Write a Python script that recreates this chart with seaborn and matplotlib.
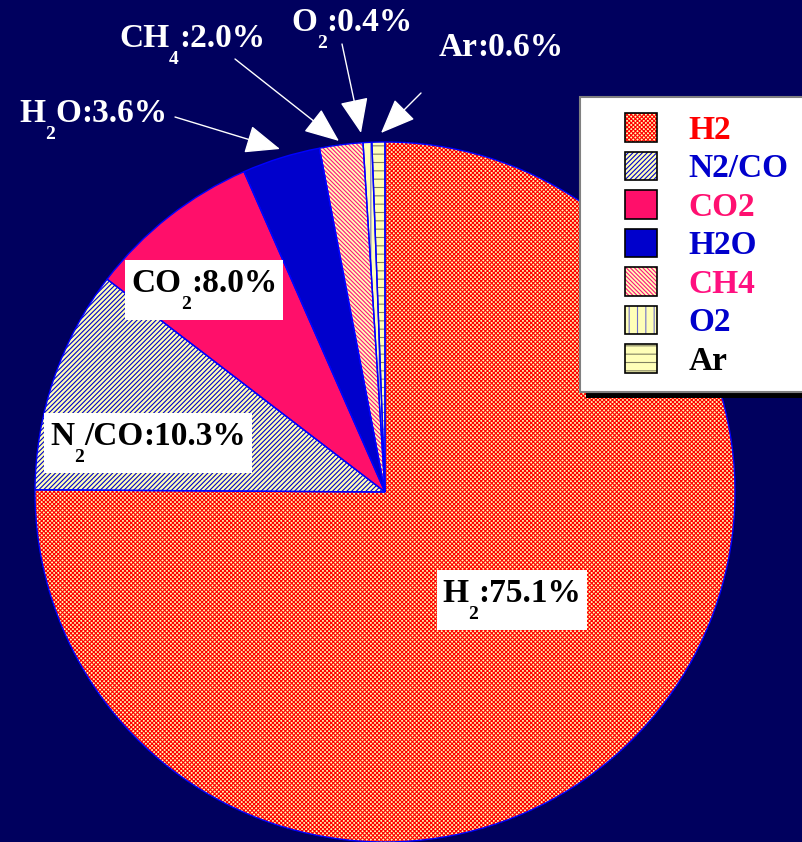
import numpy as np
import matplotlib
matplotlib.use("Agg")
import matplotlib.pyplot as plt
import matplotlib.patches as mpatches
from matplotlib.legend_handler import HandlerTuple
import seaborn as sns

# gas composition (percent)
gases = ['H2', 'N2/CO', 'CO2', 'H2O', 'CH4', 'O2', 'Ar']
shares = [75.1, 10.3, 8.0, 3.6, 2.0, 0.4, 0.6]
# label pieces: (text, is_subscript)
name_parts = [[('H', 0), ('2', 1)], [('N', 0), ('2', 1), ('/CO', 0)], [('CO', 0), ('2', 1)],
              [('H', 0), ('2', 1), ('O', 0)], [('CH', 0), ('4', 1)], [('O', 0), ('2', 1)],
              [('Ar', 0)]]

face_cols = ['#FFFFB8', '#FFFFB8', '#FF0F6A', '#0000CC', '#FFFFB8', '#FFFFB8', '#FFFFB8']
hatch_cols = ['#FF0000', '#0000CC', '#FF0F6A', '#0000CC', '#FF1080', '#7070C8', '#808060']
hatches = ['x' * 8, '/' * 7, '', '', '\\' * 8, '||', '--']
legend_txt_cols = ['#FF0000', '#0000CC', '#FF1070', '#0000CC', '#FF1080', '#0000CC', '#000000']

sns.set_style("white")
plt.rcParams['font.family'] = ['Liberation Serif', 'DejaVu Serif']
plt.rcParams['font.weight'] = 'bold'
plt.rcParams['hatch.linewidth'] = 0.8

bg = '#00005E'
W, H = 803, 842
fig = plt.figure(figsize=(W / 100, H / 100), dpi=100)
fig.patch.set_facecolor(bg)
ax = fig.add_axes([0, 0, 1, 1])
ax.set_xlim(0, W)
ax.set_ylim(0, H)
ax.set_aspect('equal')
ax.axis('off')

center = (385, H - 492)
radius = 350

wedges, _ = ax.pie(shares, colors=face_cols, startangle=90, counterclock=False,
                   center=center, radius=radius, frame=True,
                   wedgeprops=dict(linewidth=0))
for w, hc, h in zip(wedges, hatch_cols, hatches):
    w.set_edgecolor(hc)
    w.set_hatch(h)
    w.set_linewidth(0)

# thin blue outlines on top
ax.pie(shares, colors=['none'] * len(shares), startangle=90, counterclock=False,
       center=center, radius=radius, frame=True,
       wedgeprops=dict(linewidth=1.0, edgecolor='#0000FF'))
ax.set_xlim(0, W)
ax.set_ylim(0, H)
ax.axis('off')

fs, fs_sub, sub_drop = 24, 14, 17
renderer = fig.canvas.get_renderer()


def rich_label(i, xc, ybase, color, box=False):
    pieces = name_parts[i] + [(f":{shares[i]:.1f}%", 0)]
    texts, widths = [], []
    for s, sub in pieces:
        t = ax.text(0, 0, s, fontsize=fs_sub if sub else fs, fontweight='bold',
                    color=color, ha='left', va='baseline', zorder=4)
        texts.append((t, sub))
        widths.append(t.get_window_extent(renderer=renderer).width)
    x = xc - sum(widths) / 2
    x0 = x
    for (t, sub), w in zip(texts, widths):
        t.set_position((x, H - ybase - (sub_drop if sub else 0)))
        x += w
    if box:
        ax.add_patch(mpatches.Rectangle((x0 - 6, H - ybase - 28), x - x0 + 12, 60,
                                        fc='white', ec='none', zorder=3))


# boxed labels inside the pie
for i, (x, y) in {0: (512, 602), 1: (148, 445), 2: (204, 292)}.items():
    rich_label(i, x, y, 'black', box=True)

# outside labels with arrows
out_text = {3: (93, 122), 4: (192, 47), 5: (352, 31), 6: (501, 56)}
arrows = {3: ((175, 117), (280, 149)), 4: ((235, 59), (339, 141)),
          5: ((342, 44), (361, 133)), 6: ((421, 93), (381, 133))}
for i, (x, y) in out_text.items():
    rich_label(i, x, y, 'white')
    (tx, ty), (hx, hy) = arrows[i]
    ax.annotate('', xy=(hx, H - hy), xytext=(tx, H - ty),
                arrowprops=dict(arrowstyle='-|>,head_length=1.1,head_width=0.45',
                                color='white', lw=1.0, mutation_scale=20,
                                shrinkA=0, shrinkB=0))

# legend frame with black shadow
ax.add_patch(mpatches.Rectangle((586, H - 398), 240, 295, fc='black', ec='none', zorder=5))
ax.add_patch(mpatches.Rectangle((580, H - 392), 240, 295, fc='white', ec='#808080',
                                lw=1.5, zorder=6))

handles = []
for fc, hc, h in zip(face_cols, hatch_cols, hatches):
    p = mpatches.Patch(facecolor=fc, edgecolor=hc, hatch=h, linewidth=0)
    o = mpatches.Patch(facecolor='none', edgecolor='black', linewidth=1.2)
    handles.append((p, o))

leg = ax.legend(handles, gases, handler_map={tuple: HandlerTuple(ndivide=1, pad=0)},
                loc='upper left', bbox_to_anchor=(625 / W, 1 - 113 / H),
                frameon=False, prop=dict(weight='bold', size=fs),
                handlelength=0.95, handleheight=0.95, handletextpad=0.95,
                labelspacing=0.17, borderpad=0, borderaxespad=0)
leg.set_zorder(7)
for t, c in zip(leg.get_texts(), legend_txt_cols):
    t.set_color(c)

fig.savefig('out.png', dpi=100, facecolor=bg)
